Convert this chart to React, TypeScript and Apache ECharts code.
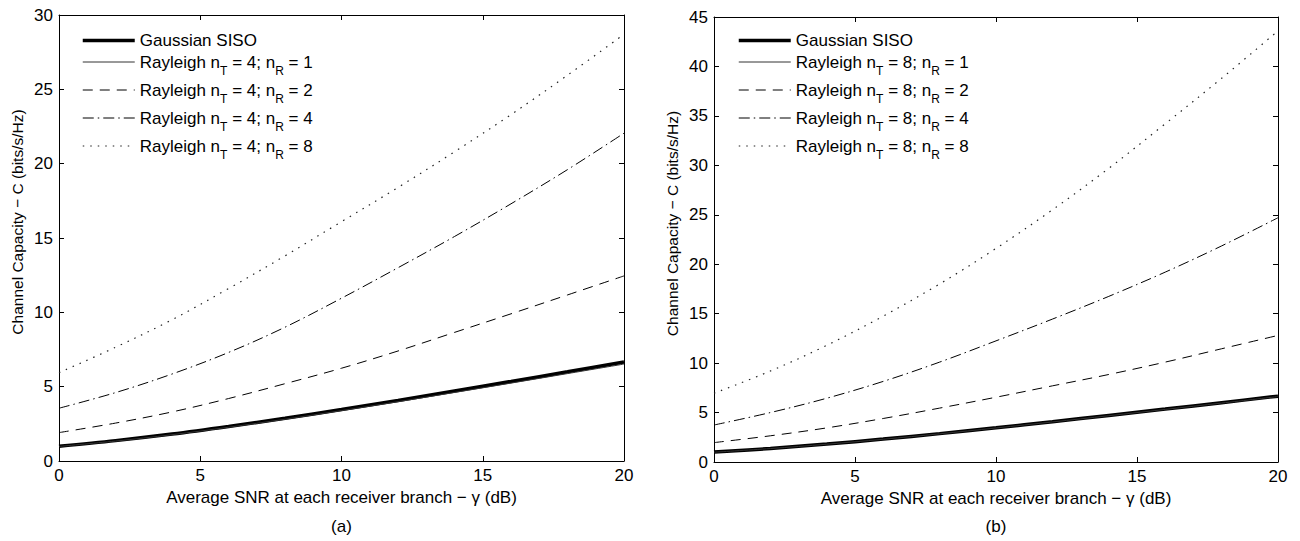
import React, { useEffect, useRef } from "react";
import * as echarts from "echarts";

// SNR (dB) sample points
const snrDb = [0, 2, 4, 6, 8, 10, 12, 14, 16, 18, 20];

// Panel (a): nT = 4
const gaussianA = [1.0, 1.37, 1.81, 2.32, 2.87, 3.46, 4.07, 4.71, 5.35, 6.0, 6.66];
const rayA1 = [0.98, 1.34, 1.77, 2.27, 2.81, 3.39, 3.99, 4.61, 5.24, 5.88, 6.52];
const rayA2 = [1.91, 2.55, 3.3, 4.2, 5.2, 6.24, 7.4, 8.65, 9.9, 11.17, 12.45];
const rayA4 = [3.55, 4.6, 5.85, 7.3, 9.0, 10.95, 13.0, 15.1, 17.3, 19.6, 22.05];
const rayA8 = [5.94, 7.65, 9.5, 11.6, 13.8, 16.1, 18.4, 20.8, 23.3, 25.95, 28.7];

// Panel (b): nT = 8
const gaussianB = [1.0, 1.37, 1.81, 2.32, 2.87, 3.46, 4.07, 4.71, 5.35, 6.0, 6.66];
const rayB1 = [0.99, 1.36, 1.8, 2.3, 2.85, 3.44, 4.05, 4.68, 5.32, 5.96, 6.62];
const rayB2 = [1.96, 2.65, 3.45, 4.4, 5.45, 6.55, 7.7, 8.85, 10.1, 11.45, 12.8];
const rayB4 = [3.74, 5.0, 6.45, 8.15, 10.1, 12.25, 14.45, 16.75, 19.2, 21.85, 24.7];
const rayB8 = [6.95, 9.2, 11.8, 14.75, 18.0, 21.6, 25.5, 29.7, 34.2, 38.8, 43.6];

const namesA = [
  "Gaussian SISO",
  "Rayleigh n_T = 4; n_R = 1",
  "Rayleigh n_T = 4; n_R = 2",
  "Rayleigh n_T = 4; n_R = 4",
  "Rayleigh n_T = 4; n_R = 8",
];
const namesB = [
  "Gaussian SISO",
  "Rayleigh n_T = 8; n_R = 1",
  "Rayleigh n_T = 8; n_R = 2",
  "Rayleigh n_T = 8; n_R = 4",
  "Rayleigh n_T = 8; n_R = 8",
];

const xAxisName = "Average SNR at each receiver branch \u2212 \u03b3 (dB)";
const yAxisName = "Channel Capacity \u2212 C (bits/s/Hz)";
const panelLabels = ["(a)", "(b)"];
const yMaxA = 30;
const yMaxB = 45;

const FONT = "'Liberation Sans', Arial, Helvetica, sans-serif";
const FS = 17;

const styles = [
  { width: 3.5, type: "solid", color: "#000" },
  { width: 1, type: "solid", color: "#333" },
  { width: 1, type: [10, 7], color: "#000" },
  { width: 1, type: [11, 4, 1.5, 4], color: "#000" },
  { width: 1.2, type: [1.5, 6], color: "#222" },
];

function toPairs(arr: number[]) {
  return snrDb.map((x, i) => [x, arr[i]]);
}

function legendFormatter(name: string) {
  if (name.indexOf("_T") < 0) return "{g|" + name + "}";
  const m = name.match(/^(.*?n)_T(.*?n)_R(.*)$/);
  if (!m) return "{m|" + name + "}";
  return "{m|" + m[1] + "}{s|T}{m|" + m[2] + "}{s|R}{m|" + m[3] + "}";
}

const rich = {
  g: { fontSize: FS, fontFamily: FONT, color: "#000", lineHeight: 20 },
  m: { fontSize: FS, fontFamily: FONT, color: "#000", lineHeight: 24 },
  s: { fontSize: 12, fontFamily: FONT, color: "#000", lineHeight: 24, padding: [18, 0, 0, 0] },
};

export default function App() {
  const ref = useRef<HTMLDivElement>(null);
  useEffect(() => {
    if (!ref.current) return;
    const chart = echarts.init(ref.current, undefined, { renderer: "svg" });

    const grids = [
      { left: 59, top: 15, width: 565, height: 446 },
      { left: 714, top: 17, width: 564, height: 445 },
    ];
    const yMaxes = [yMaxA, yMaxB];

    const xAxes: any[] = [];
    const yAxes: any[] = [];
    grids.forEach((g, gi) => {
      const line = { show: true, onZero: false, lineStyle: { color: "#000", width: 1 } };
      const tick = { show: true, inside: true, length: 5, lineStyle: { color: "#000" } };
      xAxes.push({
        gridIndex: gi, type: "value", min: 0, max: 20, interval: 5, position: "bottom",
        axisLine: line, axisTick: tick, splitLine: { show: false },
        axisLabel: { color: "#000", fontSize: FS, fontFamily: FONT, margin: 6 },
        name: xAxisName, nameLocation: "middle", nameGap: 28,
        nameTextStyle: { color: "#000", fontSize: FS, fontFamily: FONT },
      });
      xAxes.push({
        gridIndex: gi, type: "value", min: 0, max: 20, interval: 5, position: "top",
        axisLine: line, axisTick: tick, splitLine: { show: false }, axisLabel: { show: false },
      });
      yAxes.push({
        gridIndex: gi, type: "value", min: 0, max: yMaxes[gi], interval: 5, position: "left",
        axisLine: line, axisTick: tick, splitLine: { show: false },
        axisLabel: { color: "#000", fontSize: FS, fontFamily: FONT, margin: 6 },
        name: yAxisName, nameLocation: "middle", nameGap: 34,
        nameTextStyle: { color: "#000", fontSize: 15.5, fontFamily: FONT, padding: [0, 0, 0, 32] },
      });
      yAxes.push({
        gridIndex: gi, type: "value", min: 0, max: yMaxes[gi], interval: 5, position: "right",
        axisLine: line, axisTick: tick, splitLine: { show: false }, axisLabel: { show: false },
      });
    });

    const dataA = [gaussianA, rayA1, rayA2, rayA4, rayA8];
    const dataB = [gaussianB, rayB1, rayB2, rayB4, rayB8];
    const series: any[] = [];
    [dataA, dataB].forEach((set, gi) => {
      const names = gi === 0 ? namesA : namesB;
      set.forEach((arr, si) => {
        series.push({
          type: "line",
          name: names[si],
          xAxisIndex: gi * 2,
          yAxisIndex: gi * 2,
          data: toPairs(arr),
          smooth: 0.35,
          symbol: "none",
          itemStyle: { color: "#000" },
          lineStyle: styles[si],
          z: si === 0 ? 2 : 3,
        });
      });
    });

    const legendBase = {
      orient: "vertical",
      top: 32,
      padding: 0,
      itemWidth: 52,
      itemHeight: 10,
      itemGap: -2,
      selectedMode: false,
      formatter: legendFormatter,
      itemStyle: { opacity: 0 },
      lineStyle: { width: "inherit", type: "inherit", color: "inherit" },
      textStyle: { rich, fontSize: FS, fontFamily: FONT },
    };

    chart.setOption({
      animation: false,
      backgroundColor: "#fff",
      grid: grids.map((g) => ({ ...g, containLabel: false })),
      xAxis: xAxes,
      yAxis: yAxes,
      legend: [
        { ...legendBase, left: 81, data: namesA },
        { ...legendBase, left: 737, data: namesB },
      ],
      series,
      graphic: [
        { type: "text", x: 341.5, y: 526, style: { text: panelLabels[0], fill: "#000", font: `${FS}px ${FONT}`, textAlign: "center", textVerticalAlign: "middle" } },
        { type: "text", x: 996, y: 526, style: { text: panelLabels[1], fill: "#000", font: `${FS}px ${FONT}`, textAlign: "center", textVerticalAlign: "middle" } },
      ],
    });
    return () => chart.dispose();
  }, []);
  return (
    <div
      ref={ref}
      style={{ position: "absolute", left: 0, top: 0, width: 1300, height: 541 }}
    />
  );
}
